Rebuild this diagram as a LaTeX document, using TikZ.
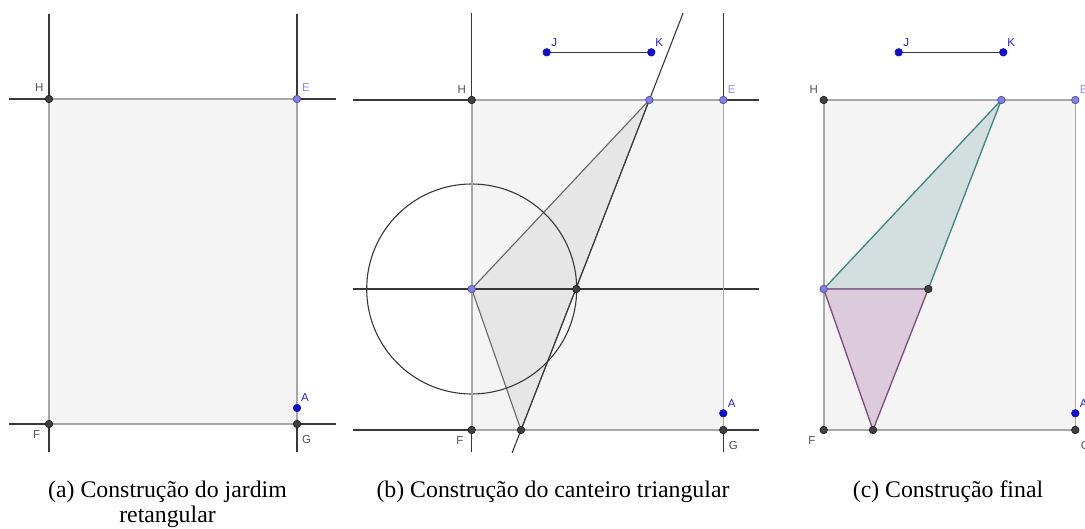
\documentclass[tikz,border=0pt]{standalone}
\usepackage{fontspec}
\setmainfont{Liberation Serif}
\newfontfamily\ggbfont{Liberation Sans}
\definecolor{gardenfill}{HTML}{F4F4F4}
\definecolor{linegray}{HTML}{383838}
\definecolor{edgegray}{HTML}{A8A8A8}
\definecolor{trifill}{HTML}{E6E6E6}
\definecolor{triedge}{HTML}{666666}
\definecolor{ptdark}{HTML}{404040}
\definecolor{ptrim}{HTML}{1E1E1E}
\definecolor{ptlight}{HTML}{8080F0}
\definecolor{ptlightrim}{HTML}{505090}
\definecolor{ptblue}{HTML}{1010C8}
\definecolor{labgray}{HTML}{505050}
\definecolor{lablight}{HTML}{8C8CFF}
\definecolor{labblue}{HTML}{2020E0}
\definecolor{tealfill}{HTML}{D2DFDE}
\definecolor{tealedge}{HTML}{3F877E}
\definecolor{plumfill}{HTML}{DCCCDB}
\definecolor{plumedge}{HTML}{7A4C7A}
\usepackage{tikz}
\usetikzlibrary{positioning,calc}

\begin{document}
\begin{tikzpicture}[x=1pt,y=-1pt,
    gline/.style={line width=1.1pt,linegray},
    edge/.style={line width=1.6pt,edgegray},
    dpt/.style={circle,inner sep=0pt,minimum size=7.5pt,fill=ptdark,draw=ptrim,line width=0.7pt},
    lpt/.style={dpt,fill=ptlight,draw=ptlightrim},
    bpt/.style={dpt,fill=ptblue,draw=ptblue},
    lab/.style={font=\ggbfont\fontsize{11.5}{12}\selectfont,text=labgray,inner sep=0pt},
    captext/.style={font=\fontsize{23.8}{26}\selectfont,anchor=base,inner sep=0pt}]
    \useasboundingbox (0,0) rectangle (1085,529);
    \clip (0,0) rectangle (1085,529);
    % (a) jardim retangular
    \coordinate (aH) at (49,99);  \coordinate (aE) at (297,99);
    \coordinate (aF) at (49,424); \coordinate (aG) at (297,424);
    \coordinate (aA) at (297,408);
    \fill[gardenfill] (aH) rectangle (aG);
    \draw[gline] (aH |- 0,14) -- (aF |- 0,452) (aE |- 0,14) -- (aG |- 0,452);
    \draw[gline] (aH -| 9,0) -- (aE -| 336,0) (aF -| 9,0) -- (aG -| 336,0);
    \draw[edge] (aH) -- (aE) -- (aG) -- (aF) -- cycle;
    \node[dpt] (paH) at (aH) {};
    \node[lpt] (paE) at (aE) {};
    \node[dpt] (paF) at (aF) {};
    \node[dpt] (paG) at (aG) {};
    \node[bpt] (paA) at (aA) {};
    \node[lab] (laH) at (39.3,88) {H};
    \node[lab,text=lablight] (laE) at (306,88) {E};
    \node[lab] (laF) at (36.7,435) {F};
    \node[lab] (laG) at (306.7,440) {G};
    \node[lab,text=labblue] (laA) at (305,398) {A};
    % (b) canteiro triangular
    \coordinate (bH) at (471.7,100); \coordinate (bE) at (723.3,100);
    \coordinate (bF) at (471.7,430); \coordinate (bG) at (723.3,430);
    \coordinate (bM) at (471.7,289); \coordinate (bR) at (576.3,289);
    \coordinate (bT) at (649.3,100); \coordinate (bB) at (521,430);
    \coordinate (bJ) at (546.7,52.3); \coordinate (bK) at (651.3,52.3);
    \coordinate (bA) at (723.3,413.3);
    \fill[gardenfill] (bH) rectangle (bG);
    \filldraw[fill=trifill,draw=triedge,line width=1.1pt] (bM) -- (bT) -- (bB) -- cycle;
    \draw[gline] (bH |- 0,13) -- (bF |- 0,452) (bE |- 0,13) -- (bG |- 0,452);
    \draw[gline] (bH -| 353,0) -- (bE -| 759,0) (bF -| 353,0) -- (bG -| 759,0)
        (bM -| 353,0) -- (bM -| 759,0);
    \draw[gline] ($(bB)!-0.069!(bT)$) -- ($(bB)!1.263!(bT)$);
    \draw[gline] (bM) circle (105pt);
    \draw[gline,line width=1.6pt] (bM) -- (bR);
    \draw[edge] (bH) -- (bE) -- (bG) -- (bF) -- cycle;
    \draw[gline] (bJ) -- (bK);
    \node[dpt] (pbH) at (bH) {};
    \node[lpt] (pbE) at (bE) {};
    \node[dpt] (pbF) at (bF) {};
    \node[dpt] (pbG) at (bG) {};
    \node[lpt] (pbM) at (bM) {};
    \node[dpt] (pbR) at (bR) {};
    \node[lpt] (pbT) at (bT) {};
    \node[dpt] (pbB) at (bB) {};
    \node[bpt] (pbJ) at (bJ) {};
    \node[bpt] (pbK) at (bK) {};
    \node[bpt] (pbA) at (bA) {};
    \node[lab] (lbH) at (461.7,90) {H};
    \node[lab,text=lablight] (lbE) at (731.7,90) {E};
    \node[lab,text=labblue] (lbJ) at (554.3,42.3) {J};
    \node[lab,text=labblue] (lbK) at (659.3,42.3) {K};
    \node[lab] (lbF) at (460,440.7) {F};
    \node[lab] (lbG) at (733.3,446) {G};
    \node[lab,text=labblue] (lbA) at (731.7,403.3) {A};
    % (c) final
    \coordinate (cH) at (823.7,100); \coordinate (cE) at (1075.3,100);
    \coordinate (cF) at (823.7,430); \coordinate (cG) at (1075.3,430);
    \coordinate (cM) at (823.7,289); \coordinate (cR) at (928.3,289);
    \coordinate (cT) at (1001.3,100); \coordinate (cB) at (873,430);
    \coordinate (cJ) at (898.7,52.3); \coordinate (cK) at (1003.3,52.3);
    \coordinate (cA) at (1075.3,413.3);
    \fill[gardenfill] (cH) rectangle (cG);
    \draw[edge] (cH) -- (cE) -- (cG) -- (cF) -- cycle;
    \filldraw[fill=tealfill,draw=tealedge,line width=1.3pt] (cM) -- (cT) -- (cR) -- cycle;
    \filldraw[fill=plumfill,draw=plumedge,line width=1.3pt] (cM) -- (cR) -- (cB) -- cycle;
    \draw[gline] (cJ) -- (cK);
    \node[dpt] (pcH) at (cH) {};
    \node[lpt] (pcE) at (cE) {};
    \node[dpt] (pcF) at (cF) {};
    \node[dpt] (pcG) at (cG) {};
    \node[lpt] (pcM) at (cM) {};
    \node[dpt] (pcR) at (cR) {};
    \node[lpt] (pcT) at (cT) {};
    \node[dpt] (pcB) at (cB) {};
    \node[bpt] (pcJ) at (cJ) {};
    \node[bpt] (pcK) at (cK) {};
    \node[bpt] (pcA) at (cA) {};
    \node[lab] (lcH) at (813.7,90) {H};
    \node[lab,text=lablight] (lcE) at (1083.7,90) {E};
    \node[lab,text=labblue] (lcJ) at (906.3,42.3) {J};
    \node[lab,text=labblue] (lcK) at (1011.3,42.3) {K};
    \node[lab] (lcF) at (812,440.7) {F};
    \node[lab] (lcG) at (1085.3,446) {G};
    \node[lab,text=labblue] (lcA) at (1083.7,403.3) {A};
    % legendas
    \node[captext] (capa) at (167.5,497) {(a) Construção do jardim};
    \node[captext] (capa2) at (167.5,522) {retangular};
    \node[captext] (capb) at (553,497) {(b) Construção do canteiro triangular};
    \node[captext] (capc) at (948,497) {(c) Construção final};
\end{tikzpicture}
\end{document}
